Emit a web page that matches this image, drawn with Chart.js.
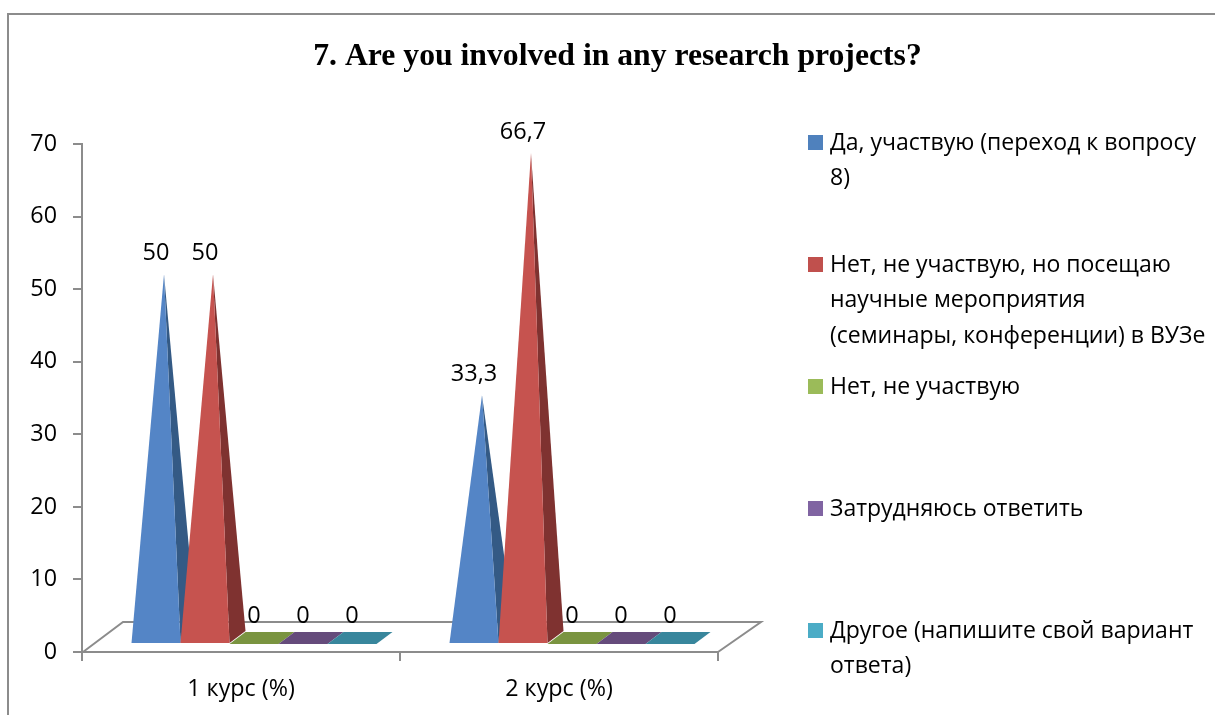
<!DOCTYPE html>
<html><head><meta charset="utf-8">
<style>html,body{margin:0;padding:0;background:#fff}canvas{display:block}</style>
<script src="https://cdn.jsdelivr.net/npm/chart.js@4"></script>
</head><body><canvas id="c" width="1215" height="715"></canvas>
<script>
const categories = ['1 курс (%)', '2 курс (%)'];
const seriesLines = [
  ['Да, участвую (переход к вопросу', '8)'],
  ['Нет, не участвую, но посещаю', 'научные мероприятия', '(семинары, конференции) в ВУЗе'],
  ['Нет, не участвую'],
  ['Затрудняюсь ответить'],
  ['Другое (напишите свой вариант', 'ответа)']];
const yes = [50, 33.3];
const noButAttend = [50, 66.7];
const no = [0, 0];
const unsure = [0, 0];
const other = [0, 0];
const seriesValues = [yes, noButAttend, no, unsure, other];
const legendColors = ['#4f81bd', '#c0504d', '#9bbb59', '#8064a2', '#4bacc6'];
const frontColors = ['#5485c6', '#c6534f', '#7a9440', '#654b7b', '#38869c'];
const sideColors = ['#345a85', '#7f3230', '#7a9440', '#654b7b', '#38869c'];
const titleText = '7. Are you involved in any research projects?';
const FONT = '"Open Sans"';
const GRAY = '#8c8c8c';

const pyramids = {
  id: 'pyramids',
  afterLayout(chart) {
    const t = chart.titleBlock;
    t.left = 0; t.right = 1235; t.width = 1235;
  },
  beforeDatasetsDraw(chart) {
    const ctx = chart.ctx, xs = chart.scales.x, ys = chart.scales.y;
    const y0 = ys.getPixelForValue(0), L = xs.left, R = xs.right;
    ctx.save();
    // frame
    ctx.strokeStyle = GRAY; ctx.lineWidth = 2;
    ctx.beginPath(); ctx.moveTo(8, 715); ctx.lineTo(8, 14); ctx.lineTo(1215, 14); ctx.stroke();
    // floor
    ctx.beginPath();
    ctx.moveTo(L + 1, y0); ctx.lineTo(L + 41, y0 - 30); ctx.lineTo(R + 43, y0 - 30); ctx.lineTo(R, y0);
    ctx.stroke();
    // marks
    const dx = 13, baseUp = 8, depthX = 16, depthY = 12;
    chart.data.datasets.forEach((ds, di) => {
      chart.getDatasetMeta(di).data.forEach((bar, i) => {
        const w = bar.width, l = bar.x + dx - w / 2, r = l + w, b = bar.base - baseUp;
        ctx.beginPath();
        if (ds.data[i] === 0) {
          ctx.fillStyle = frontColors[di];
          ctx.moveTo(l, b); ctx.lineTo(r, b); ctx.lineTo(r + depthX, b - depthY); ctx.lineTo(l + depthX, b - depthY);
          ctx.closePath(); ctx.fill();
        } else {
          const px = l + w / 2 + depthX / 2, py = bar.y - 15;
          ctx.fillStyle = sideColors[di];
          ctx.moveTo(px, py); ctx.lineTo(r, b); ctx.lineTo(r + depthX, b - depthY); ctx.closePath(); ctx.fill();
          ctx.beginPath(); ctx.fillStyle = frontColors[di];
          ctx.moveTo(px, py); ctx.lineTo(l, b); ctx.lineTo(r, b); ctx.closePath(); ctx.fill();
        }
      });
    });
    // value labels
    ctx.fillStyle = '#000'; ctx.font = '23.5px ' + FONT; ctx.textAlign = 'center'; ctx.textBaseline = 'middle';
    chart.data.datasets.forEach((ds, di) => {
      chart.getDatasetMeta(di).data.forEach((bar, i) => {
        ctx.fillText(String(ds.data[i]).replace('.', ','), bar.x + dx, bar.y - 36);
      });
    });
    // legend
    ctx.font = '23px ' + FONT; ctx.textAlign = 'left';
    const lineH = 35.5, step = 122, top = 143;
    seriesLines.forEach((lines, di) => {
      const y = top + step * di;
      ctx.fillStyle = legendColors[di];
      ctx.fillRect(808, y - 8, 15, 15);
      ctx.fillStyle = '#000';
      lines.forEach((ln, k) => ctx.fillText(ln, 830, y + k * lineH));
    });
    ctx.restore();
    return false;
  }
};

new Chart(document.getElementById('c'), {
  type: 'bar',
  data: {
    labels: categories,
    datasets: seriesLines.map((n, i) => ({ label: n.join(' '), data: seriesValues[i], backgroundColor: legendColors[i],
      categoryPercentage: 245 / 318, barPercentage: 1 }))
  },
  plugins: [pyramids],
  options: {
    responsive: false, animation: false,
    layout: { padding: { left: 0, right: 1215 - 718, top: 0, bottom: 0 } },
    plugins: {
      legend: { display: false }, tooltip: { enabled: false },
      title: { display: true, text: titleText, color: '#000', padding: { top: 38, bottom: 68 },
        font: { family: '"Liberation Serif"', size: 31.7, weight: 'bold', lineHeight: 1.2 } }
    },
    scales: {
      x: {
        grid: { drawOnChartArea: false, drawTicks: true, tickLength: 9, color: GRAY, lineWidth: 2 },
        border: { color: GRAY, width: 2 },
        ticks: { color: '#000', font: { family: FONT, size: 23.3 }, padding: 14, maxRotation: 0 },
        afterFit(s) { s.height = 715 - 652; }
      },
      y: {
        min: 0, max: 70,
        grid: { drawOnChartArea: false, drawTicks: true, tickLength: 9, color: GRAY, lineWidth: 2 },
        border: { color: GRAY, width: 2 },
        ticks: { stepSize: 10, color: '#000', font: { family: FONT, size: 23.3 }, padding: 16 },
        afterFit(s) { s.width = 82; }
      }
    }
  }
});
</script></body></html>
